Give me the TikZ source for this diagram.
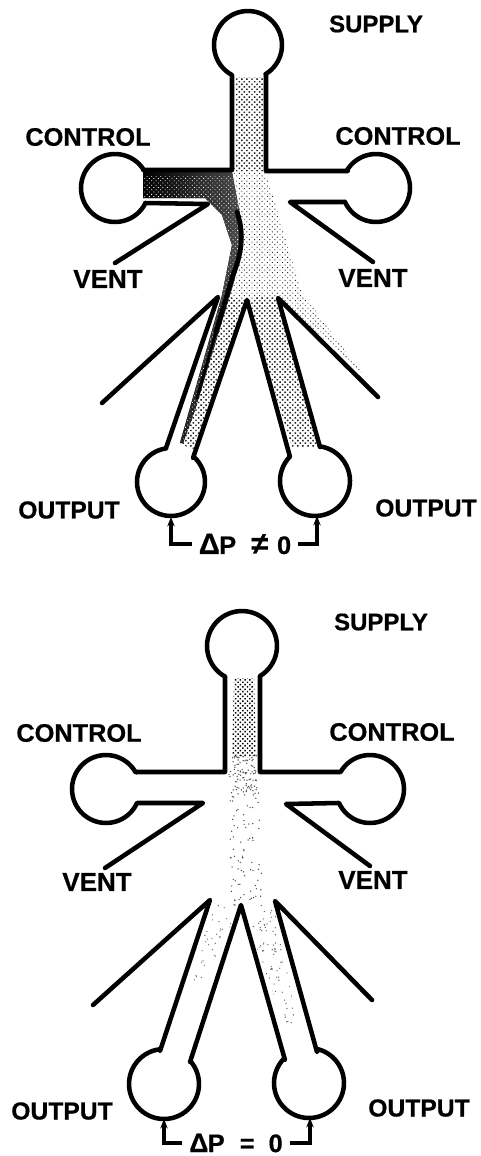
\documentclass[tikz,border=0pt]{standalone}
\usepackage{fontspec}
\setmainfont{Liberation Sans}[BoldFeatures={FakeBold=0.6}]
\usetikzlibrary{arrows.meta,patterns.meta}
\tikzset{
  port/.style n args={5}{insert path={-- plot[domain=#4:#5,samples=50,variable=\t] ({#1+#3*cos(\t)},{#2+#3*sin(\t)})}},
  wall/.style={draw=black,line width=3.4pt,line join=round,line cap=round},
  lab/.style={font=\fontsize{18}{20}\selectfont\bfseries,inner sep=0pt,text=black},
  labctl/.style={font=\fontsize{19}{20}\selectfont\bfseries,inner sep=0pt,text=black},
  labvent/.style={font=\fontsize{19.5}{20}\selectfont\bfseries,inner sep=0pt,text=black},
  labout/.style={font=\fontsize{18.5}{20}\selectfont\bfseries,inner sep=0pt,text=black},
  delta/.style={font=\fontsize{19}{20}\selectfont\bfseries,inner xsep=5pt,inner ysep=0pt,text=black},
  leader/.style={draw=black,line width=2.3pt,-{Stealth[length=7pt,width=5.5pt]}},
  lightflow/.style={pattern={Dots[distance=2.7pt,radius=.5pt,angle=45]},pattern color=black!85},
  channelflow/.style={pattern={Dots[distance=2.7pt,radius=.78pt,angle=45]},pattern color=black!85},
  denseflow/.style={pattern={Dots[distance=2.5pt,radius=.78pt,angle=45]},pattern color=black},
  speckle/.style={pattern={Dots[distance=2.4pt,radius=.45pt,angle=45]},pattern color=white},
}
\begin{document}
\begin{tikzpicture}[x=.75pt,y=-.75pt]
\useasboundingbox (0,0) rectangle (481,1156);
% ---------- upper diagram: flow ----------
\fill[lightflow] (236,78) -- (263,78) -- (263,170) -- (268,180) -- (302,293) -- (362,373) -- (278,298) -- (318,447) -- (292,447) -- (247,300) -- (193,450) -- (180,443) -- (225,290) -- (240,240) -- (234,172) -- cycle;
\fill[channelflow] (236,78) -- (263,78) -- (263,170) -- (236,170) -- cycle;
\fill[channelflow] (262,296) -- (278,298) -- (318,447) -- (292,447) -- (247,300) -- cycle;
\fill[channelflow] (225,296) -- (247,300) -- (193,450) -- (180,443) -- cycle;
\fill[left color=black,right color=black!70] (143,172) -- (232,172) -- (240,215) -- (243,245) -- (233,285) -- (195,410) -- (183,443) -- (180,443) -- (222,295) -- (232,245) -- (222,215) -- (205,198) -- (143,198) -- cycle;
\fill[speckle] (143,176) -- (232,176) -- (240,215) -- (243,245) -- (233,285) -- (195,410) -- (183,443) -- (180,443) -- (222,295) -- (232,245) -- (222,215) -- (205,198) -- (143,198) -- cycle;
\draw[black,line width=3.6pt,line cap=round] (237,212) .. controls (245,235) and (241,255) .. (233,275) -- (216,332);
\draw[black,line width=2.2pt,line cap=round] (216,332) -- (197,398);
% ---------- upper diagram: walls ----------
\draw[wall] (115,263) -- (208,204) -- (145,203) [port={115}{188}{34}{-333}{-33}] -- (143,170) -- (232,170) -- (232,75) [port={248}{45}{34}{119}{419}] -- (266,75) -- (266,171) -- (348,171) [port={376}{188}{34}{-149}{156}] -- (345,202) -- (290,202) -- (373,262);
\draw[wall] (102,403) -- (218,297) -- (166,448) [port={171}{482}{34}{-98}{-407}] -- (193,458) -- (247,300) -- (290,457) [port={315}{481}{35}{-136}{-442}] -- (320,447) -- (278,298) -- (378,397);
% ---------- upper diagram: labels ----------
\node[lab] (supA) at (376,24) {SUPPLY};
\node[labctl] (ctlAl) at (88,137) {CONTROL};
\node[labctl] (ctlAr) at (398,136) {CONTROL};
\node[labvent] (ventAl) at (108,279) {VENT};
\node[labvent] (ventAr) at (373,278) {VENT};
\node[labout] (outAl) at (69,510) {OUTPUT};
\node[labout] (outAr) at (426,508) {OUTPUT};
\node[delta] (dpA) at (245,544) {{\fontsize{22}{20}\selectfont Δ}\kern-.5pt P\hspace{.6em}{\fontsize{23}{20}\selectfont ≠}\hspace{.35em}0};
\coordinate (oAl) at (171,517);
\coordinate (oAr) at (317,516);
\draw[leader] (dpA.west) -| (oAl);
\draw[leader] (dpA.east) -| (oAr);
% ---------- lower diagram: flow ----------
\fill[denseflow] (234,678) -- (254,678) -- (256,757) -- (232,757) -- cycle;
\begin{scope}
\clip (229,755) -- (259,755) -- (262,880) -- (275,900) -- (297,1025) -- (285,1025) -- (241,905) -- (192,1005) -- (188,1005) -- (210,900) -- (226,880) -- cycle;
\pgfmathsetseed{7}
\foreach \i in {1,...,110}{\fill[black!70] ({229+33*rnd},{755+150*rnd}) circle (.55pt);}
\foreach \i in {1,...,70}{\fill[black!70] ({233+24*rnd},{755+40*rnd}) circle (.55pt);}
\foreach \i in {1,...,60}{\pgfmathsetmacro{\u}{rnd}\pgfmathsetmacro{\v}{rnd}\fill[black!60] ({212+28*\v-24*\u},{905+100*\u}) circle (.5pt);}
\foreach \i in {1,...,90}{\pgfmathsetmacro{\u}{rnd}\pgfmathsetmacro{\v}{rnd}\fill[black!65] ({245+30*\v+25*\u},{905+118*\u}) circle (.5pt);}
\end{scope}
% ---------- lower diagram: walls ----------
\draw[wall] (105,868) -- (203,803) -- (138,803) [port={106}{789}{34}{-336}{-29}] -- (137,772) -- (225,772) -- (225,676) [port={242}{646}{35}{119.5}{419}] -- (260,676) -- (260,772) -- (340,772) [port={370}{789}{34}{-150}{156}] -- (338,803) -- (286,804) -- (370,866);
\draw[wall] (93,1005) -- (210,900) -- (160,1051) [port={164}{1084}{35}{-97}{-400}] -- (190,1062) -- (241,905) -- (285,1060) [port={309}{1083}{35}{-136}{-435}] -- (317,1052) -- (275,901) -- (372,1000);
% ---------- lower diagram: labels ----------
\node[lab] (supB) at (381,622) {SUPPLY};
\node[labctl] (ctlBl) at (79,733) {CONTROL};
\node[labctl] (ctlBr) at (392,732) {CONTROL};
\node[labvent] (ventBl) at (97,882) {VENT};
\node[labvent] (ventBr) at (373,880) {VENT};
\node[labout] (outBl) at (62,1111) {OUTPUT};
\node[labout] (outBr) at (419,1108) {OUTPUT};
\node[delta] (dpB) at (236,1143) {{\fontsize{20}{20}\selectfont Δ}\kern-.5pt P\hspace{.6em}=\hspace{.55em}0};
\coordinate (oBl) at (164,1119);
\coordinate (oBr) at (310,1118);
\draw[leader] (dpB.west) -| (oBl);
\draw[leader] (dpB.east) -| (oBr);
\end{tikzpicture}
\end{document}
